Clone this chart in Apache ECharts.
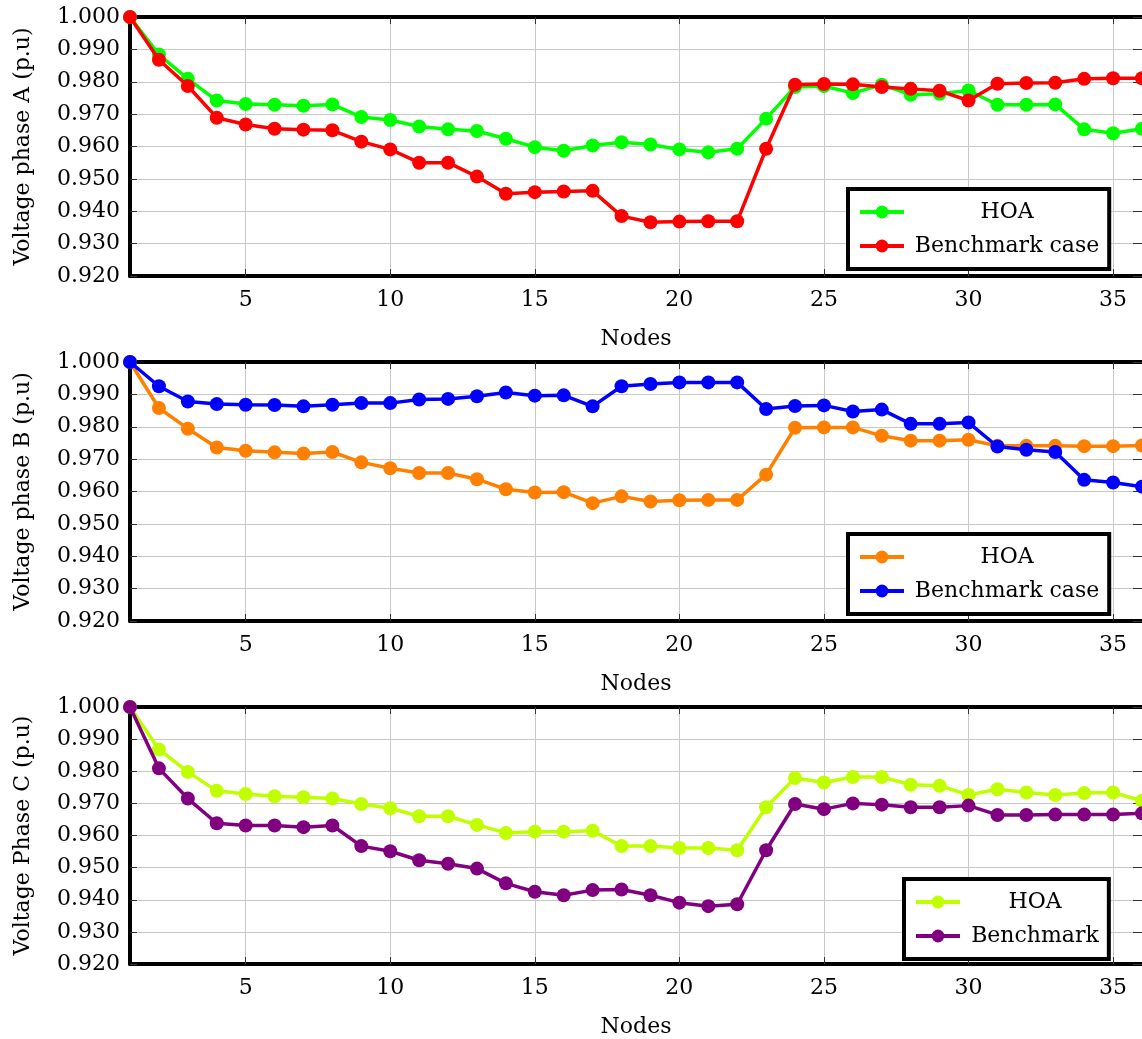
<!DOCTYPE html>
<html>
<head>
<meta charset="utf-8">
<script src="https://cdn.jsdelivr.net/npm/echarts@6/dist/echarts.min.js"></script>
<style>
html,body{margin:0;padding:0;background:#fff;}
#chart{width:1142px;height:1039px;}
</style>
</head>
<body>
<div id="chart"></div>
<script>
// ---- data ----
const nodes = [1,2,3,4,5,6,7,8,9,10,11,12,13,14,15,16,17,18,19,20,21,22,23,24,25,26,27,28,29,30,31,32,33,34,35,36];
const xTickValues = [5,10,15,20,25,30,35];

const hoaA = [1.000,0.9884,0.9809,0.9742,0.9731,0.9729,0.9726,0.9730,0.9691,0.9682,
              0.9662,0.9653,0.9648,0.9624,0.9598,0.9587,0.9603,0.9613,0.9606,0.9591,
              0.9582,0.9593,0.9686,0.9784,0.9787,0.9765,0.9791,0.9760,0.9763,0.9773,
              0.9729,0.9729,0.9730,0.9653,0.9641,0.9655];
const benchA = [1.000,0.9868,0.9787,0.9689,0.9668,0.9655,0.9652,0.9650,0.9615,0.9591,
                0.9550,0.9550,0.9507,0.9454,0.9459,0.9461,0.9463,0.9385,0.9366,0.9368,
                0.9369,0.9369,0.9593,0.9791,0.9793,0.9792,0.9784,0.9778,0.9772,0.9742,
                0.9794,0.9796,0.9797,0.9809,0.9811,0.9811];
const hoaB = [1.000,0.9858,0.9794,0.9736,0.9726,0.9721,0.9717,0.9722,0.9690,0.9672,
              0.9657,0.9657,0.9638,0.9607,0.9597,0.9598,0.9564,0.9585,0.9569,0.9573,
              0.9574,0.9574,0.9652,0.9797,0.9798,0.9798,0.9772,0.9757,0.9757,0.9760,
              0.9741,0.9741,0.9741,0.9740,0.9740,0.9742];
const benchB = [1.000,0.9925,0.9878,0.9870,0.9868,0.9867,0.9863,0.9868,0.9873,0.9873,
                0.9884,0.9886,0.9894,0.9906,0.9896,0.9897,0.9863,0.9925,0.9932,0.9937,
                0.9937,0.9937,0.9855,0.9864,0.9866,0.9847,0.9853,0.9809,0.9809,0.9813,
                0.9739,0.9729,0.9722,0.9636,0.9628,0.9615];
const hoaC = [1.000,0.9868,0.9798,0.9739,0.9729,0.9722,0.9719,0.9715,0.9698,0.9685,
              0.9660,0.9660,0.9633,0.9608,0.9612,0.9612,0.9615,0.9567,0.9567,0.9561,
              0.9561,0.9554,0.9688,0.9779,0.9765,0.9782,0.9782,0.9758,0.9755,0.9726,
              0.9744,0.9734,0.9726,0.9732,0.9734,0.9708];
const benchC = [1.000,0.9809,0.9715,0.9638,0.9631,0.9631,0.9626,0.9631,0.9567,0.9551,
                0.9523,0.9512,0.9497,0.9451,0.9425,0.9414,0.9430,0.9432,0.9414,0.9391,
                0.9380,0.9386,0.9554,0.9698,0.9682,0.9700,0.9696,0.9688,0.9688,0.9693,
                0.9664,0.9664,0.9665,0.9665,0.9665,0.9669];

const yNames = ['Voltage phase A (p.u)', 'Voltage phase B (p.u)', 'Voltage Phase C (p.u)'];
const xName = 'Nodes';
const legendLabels = ['HOA', 'Benchmark case', 'HOA', 'Benchmark case', 'HOA', 'Benchmark'];

// ---- layout / style ----
const FONT = 'DejaVu Serif';
const FS = 22;
const panels = [
  {top: 17,  hoa: hoaA, bench: benchA, hoaColor: '#00ff00', benchColor: '#ff0000',
   legend: {left: 848, top: 189, textWidth: 196}},
  {top: 362, hoa: hoaB, bench: benchB, hoaColor: '#ff8000', benchColor: '#0000ff',
   legend: {left: 848, top: 534, textWidth: 196}},
  {top: 707, hoa: hoaC, bench: benchC, hoaColor: '#bfff00', benchColor: '#800080',
   legend: {left: 904, top: 879, textWidth: 140}}
];

const grid = [], xAxis = [], yAxis = [], series = [], legend = [];
const nameMap = {};

panels.forEach((p, i) => {
  grid.push({left: 130, top: p.top, width: 1017, height: 259, containLabel: false});
  // bottom x axis
  xAxis.push({
    type: 'value', gridIndex: i, min: 1, max: 36, position: 'bottom',
    name: xName, nameLocation: 'middle', nameGap: 52,
    nameTextStyle: {fontFamily: FONT, fontSize: FS, color: '#000'},
    axisLine: {onZero: false, lineStyle: {color: '#000', width: 4}},
    axisTick: {inside: true, length: 7, customValues: xTickValues, lineStyle: {color: '#333', width: 1}},
    axisLabel: {customValues: xTickValues, margin: 13, fontFamily: FONT, fontSize: FS, color: '#000'},
    splitLine: {show: true, lineStyle: {color: '#c8c8c8', width: 1}}
  });
  // top x axis (frame)
  xAxis.push({
    type: 'value', gridIndex: i, min: 1, max: 36, position: 'top',
    axisLine: {onZero: false, lineStyle: {color: '#000', width: 4}},
    axisTick: {inside: true, length: 7, customValues: xTickValues, lineStyle: {color: '#333', width: 1}},
    axisLabel: {show: false},
    splitLine: {show: false}
  });
  // left y axis
  yAxis.push({
    type: 'value', gridIndex: i, min: 0.92, max: 1.0, interval: 0.01, position: 'left',
    name: yNames[i], nameLocation: 'middle', nameGap: 96,
    nameTextStyle: {fontFamily: FONT, fontSize: FS, color: '#000'},
    axisLine: {show: true, onZero: false, lineStyle: {color: '#000', width: 4}},
    axisTick: {show: true, inside: true, length: 7, lineStyle: {color: '#333', width: 1}},
    axisLabel: {margin: 10, fontFamily: FONT, fontSize: FS, color: '#000',
                formatter: v => v.toFixed(3)},
    splitLine: {show: true, lineStyle: {color: '#c8c8c8', width: 1}}
  });
  // right y axis (ticks only, frame edge is off-canvas)
  yAxis.push({
    type: 'value', gridIndex: i, min: 0.92, max: 1.0, interval: 0.01, position: 'right',
    axisLine: {show: false},
    axisTick: {show: true, inside: true, length: 9, lineStyle: {color: '#333', width: 1}},
    axisLabel: {show: false},
    splitLine: {show: false}
  });

  const hoaKey = 'hoa' + i, benchKey = 'bench' + i;
  nameMap[hoaKey] = legendLabels[2 * i];
  nameMap[benchKey] = legendLabels[2 * i + 1];

  const mk = (key, arr, color, z) => ({
    name: key, type: 'line', xAxisIndex: 2 * i, yAxisIndex: 2 * i,
    data: nodes.map((n, k) => [n, arr[k]]),
    symbol: 'circle', symbolSize: 14, showSymbol: true, clip: false,
    lineStyle: {color: color, width: 3.5},
    itemStyle: {color: color},
    z: z, animation: false
  });
  series.push(mk(hoaKey, p.hoa, p.hoaColor, 3));
  series.push(mk(benchKey, p.bench, p.benchColor, 4));

  legend.push({
    data: [hoaKey, benchKey],
    orient: 'vertical', left: p.legend.left, top: p.legend.top,
    padding: [12, 10, 12, 10], itemGap: 12, itemWidth: 44, itemHeight: 16, itemTextGap: 8,
    borderColor: '#000', borderWidth: 4, backgroundColor: '#fff',
    selectedMode: false,
    lineStyle: {width: 4},
    formatter: name => '{t|' + nameMap[name] + '}',
    textStyle: {
      rich: {t: {width: p.legend.textWidth, align: 'center', fontFamily: FONT, fontSize: FS,
                 color: '#000'}}
    }
  });
});

const chart = echarts.init(document.getElementById('chart'), null, {renderer: 'canvas'});
chart.setOption({
  backgroundColor: '#fff',
  animation: false,
  grid, xAxis, yAxis, series, legend
});
</script>
</body>
</html>
